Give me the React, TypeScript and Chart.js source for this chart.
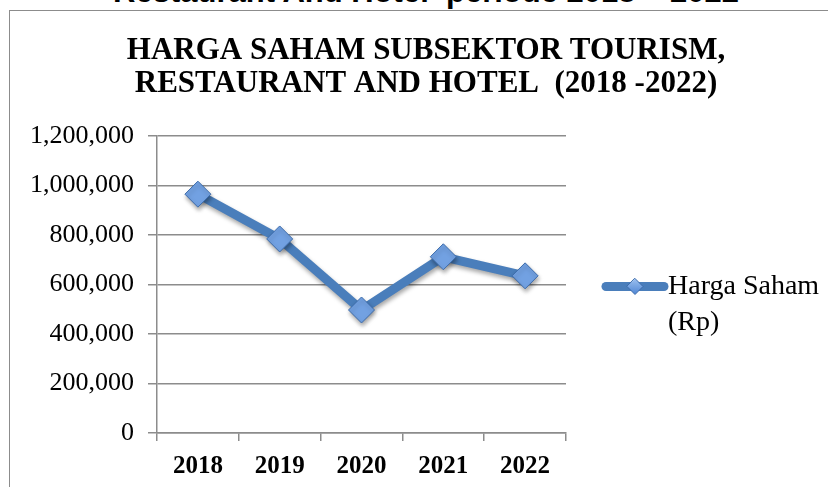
import React, { useEffect, useRef } from "react";
import { Chart, registerables } from "chart.js";

Chart.register(...registerables);

const years = ["2018", "2019", "2020", "2021", "2022"];
const hargaSaham = [965000, 784000, 497000, 712000, 635000];
const seriesLabelLines = ["Harga Saham", "(Rp)"];
const titleLines = ["HARGA SAHAM SUBSEKTOR TOURISM,", "RESTAURANT AND HOTEL  (2018 -2022)"];
const captionText = "Restaurant And Hotel  periode 2018 \u2013 2022";
const yMin = 0;
const yMax = 1200000;
const yStep = 200000;

const LINE_COLOR = "#4a7ebb";
const GRID_COLOR = "#8c8c8c";
const SERIF = "'Liberation Serif', 'Times New Roman', serif";

const titlePlugin = {
  id: "centeredTitle",
  afterDraw(chart: any) {
    const { ctx } = chart;
    ctx.save();
    ctx.fillStyle = "#000";
    ctx.font = `bold 31px ${SERIF}`;
    ctx.textAlign = "center";
    ctx.textBaseline = "middle";
    const cx = (chart.width + 24) / 2;
    titleLines.forEach((t, i) => {
      ctx.fillText(t, cx, 51 + i * 33);
    });
    ctx.restore();
  },
};

const legendPlugin = {
  id: "sideLegend",
  afterDraw(chart: any) {
    const { ctx, chartArea } = chart;
    const midY = (chartArea.top + chartArea.bottom) / 2 + 2;
    const x0 = chartArea.right + 40;
    const x1 = x0 + 58;
    ctx.save();
    ctx.strokeStyle = LINE_COLOR;
    ctx.lineWidth = 9;
    ctx.lineCap = "round";
    ctx.beginPath();
    ctx.moveTo(x0, midY);
    ctx.lineTo(x1, midY);
    ctx.stroke();
    const cx = (x0 + x1) / 2;
    const r = 8;
    ctx.beginPath();
    ctx.moveTo(cx, midY - r);
    ctx.lineTo(cx + r, midY);
    ctx.lineTo(cx, midY + r);
    ctx.lineTo(cx - r, midY);
    ctx.closePath();
    const g = ctx.createLinearGradient(cx, midY - r, cx, midY + r);
    g.addColorStop(0, "#9cc0ef");
    g.addColorStop(1, "#4f86d4");
    ctx.fillStyle = g;
    ctx.fill();
    ctx.lineWidth = 1;
    ctx.strokeStyle = "#3d6cab";
    ctx.stroke();
    ctx.fillStyle = "#000";
    ctx.font = `28px ${SERIF}`;
    ctx.textBaseline = "middle";
    ctx.textAlign = "left";
    seriesLabelLines.forEach((t, i) => {
      ctx.fillText(t, x1 + 4, midY + i * 36);
    });
    ctx.restore();
  },
};

const pointShadowPlugin = {
  id: "pointShadow",
  beforeDatasetDraw(chart: any) {
    const ctx = chart.ctx;
    ctx.save();
    ctx.shadowColor = "rgba(0,0,0,0.35)";
    ctx.shadowBlur = 4;
    ctx.shadowOffsetX = 1;
    ctx.shadowOffsetY = 3;
  },
  afterDatasetDraw(chart: any) {
    chart.ctx.restore();
  },
};

export default function App() {
  const canvasRef = useRef<HTMLCanvasElement | null>(null);

  useEffect(() => {
    document.body.style.margin = "0";
    const canvas = canvasRef.current;
    if (!canvas) return;
    const chart = new Chart(canvas, {
      type: "line",
      data: {
        labels: years,
        datasets: [
          {
            label: seriesLabelLines.join(" "),
            data: hargaSaham,
            borderColor: LINE_COLOR,
            borderWidth: 9,
            borderCapStyle: "round",
            borderJoinStyle: "round",
            tension: 0,
            pointStyle: "rectRot",
            pointRadius: 13,
            pointHoverRadius: 13,
            pointBackgroundColor: "#72a1e2",
            pointBorderColor: "#3d6cab",
            pointBorderWidth: 1,
            fill: false,
          },
        ],
      },
      options: {
        animation: false,
        responsive: false,
        maintainAspectRatio: false,
        events: [],
        layout: { padding: { left: 10, right: 262, top: 136, bottom: 0 } },
        plugins: {
          legend: { display: false },
          tooltip: { enabled: false },
          title: { display: false },
        },
        scales: {
          x: {
            type: "category",
            offset: true,
            grid: {
              offset: true,
              drawOnChartArea: false,
              drawTicks: true,
              tickLength: 8,
              color: GRID_COLOR,
              lineWidth: 1.5,
            },
            border: { display: true, color: GRID_COLOR, width: 1.5 },
            ticks: {
              color: "#000",
              padding: 11,
              font: { family: SERIF, size: 25, weight: "bold" },
              maxRotation: 0,
            },
            afterFit(scale: any) {
              scale.height = 54;
            },
          },
          y: {
            min: yMin,
            max: yMax,
            grid: {
              color: GRID_COLOR,
              lineWidth: 1.5,
              drawTicks: true,
              tickLength: 9,
            },
            border: { display: true, color: GRID_COLOR, width: 1.5 },
            ticks: {
              stepSize: yStep,
              color: "#000",
              padding: 14,
              font: { family: SERIF, size: 26 },
              callback: (v: any) => Number(v).toLocaleString("en-US"),
            },
            afterFit(scale: any) {
              scale.width = 147;
            },
          },
        },
      },
      plugins: [pointShadowPlugin, titlePlugin, legendPlugin],
    } as any);
    return () => chart.destroy();
  }, []);

  return (
    <div style={{ position: "relative", width: 828, height: 487, overflow: "hidden", background: "#fff" }}>
      <div
        style={{
          position: "absolute",
          left: 0,
          width: 828,
          top: -26,
          textAlign: "center",
          paddingLeft: 24,
          boxSizing: "border-box",
          font: "bold 31px 'Liberation Sans', Arial, sans-serif",
          lineHeight: "36px",
          color: "#000",
          whiteSpace: "pre",
        }}
      >
        {captionText}
      </div>
      <div
        style={{
          position: "absolute",
          left: 9,
          top: 10,
          width: 840,
          height: 520,
          border: "1.5px solid #8c8c8c",
          boxSizing: "border-box",
        }}
      />
      <canvas
        ref={canvasRef}
        width={828}
        height={487}
        style={{ position: "absolute", left: 0, top: 0, width: 828, height: 487 }}
      />
    </div>
  );
}
